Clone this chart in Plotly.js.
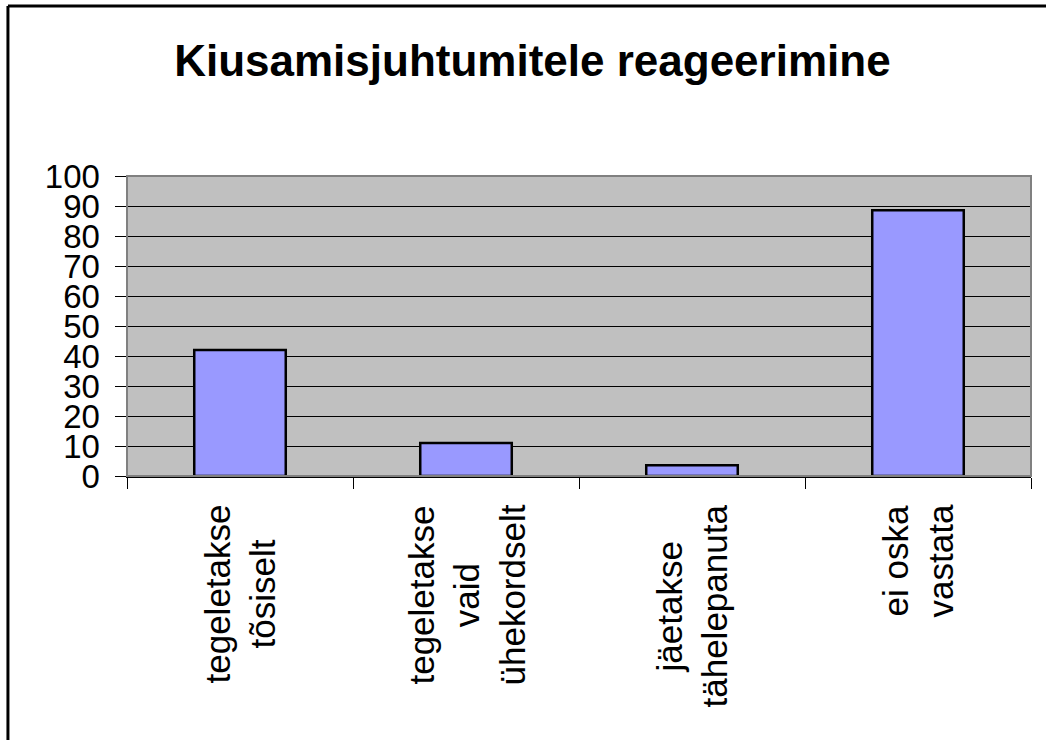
<!DOCTYPE html>
<html>
<head>
<meta charset="utf-8">
<script src="https://cdn.plot.ly/plotly-3.0.1.min.js"></script>
<style>
  html, body { margin: 0; padding: 0; background: #ffffff; overflow: hidden; }
  #chart { width: 1046px; height: 740px; }
</style>
</head>
<body>
<div id="chart"></div>
<script>
// ---- data ----
const categories = ["tegeletakse tõsiselt", "tegeletakse vaid ühekordselt", "jäetakse tähelepanuta", "ei oska vastata"];
const labelLines = [["tegeletakse", "tõsiselt"], ["tegeletakse", "vaid", "ühekordselt"], ["jäetakse", "tähelepanuta"], ["ei oska", "vastata"]];
const values = [42, 11, 3.6, 88.6];
const yTicks = [0, 10, 20, 30, 40, 50, 60, 70, 80, 90, 100];
const chartTitle = "Kiusamisjuhtumitele reageerimine";

const FONT = "Liberation Sans, Arial, sans-serif";

const trace = {
  type: "bar",
  x: categories,
  y: values,
  marker: { color: "#9999FF", line: { color: "#000000", width: 2.5 } },
  hoverinfo: "skip"
};

const annotations = categories.map((c, i) => ({
  xref: "x", yref: "paper",
  x: c, y: -0.09,
  xanchor: "center", yanchor: "top",
  text: labelLines[i].join("<br>"),
  textangle: -90,
  align: "center",
  showarrow: false,
  font: { family: FONT, size: 35, color: "#000000" }
}));

const layout = {
  width: 1046, height: 740,
  paper_bgcolor: "#ffffff",
  plot_bgcolor: "#C0C0C0",
  margin: { l: 127, r: 15, t: 176, b: 264, pad: 0 },
  showlegend: false,
  bargap: 0.595,
  title: {
    text: "<b>" + chartTitle + "</b>",
    font: { family: FONT, size: 44, color: "#000000" },
    x: 0.509, xref: "container", xanchor: "center",
    y: 0.918, yref: "container", yanchor: "middle"
  },
  xaxis: {
    type: "category",
    showticklabels: false,
    ticks: "outside", tickson: "boundaries", ticklen: 11, tickcolor: "#000000", tickwidth: 1,
    showline: true, linecolor: "#000000", linewidth: 1.5,
    showgrid: false, zeroline: false,
    fixedrange: true
  },
  yaxis: {
    range: [0, 100],
    tickvals: yTicks,
    ticktext: yTicks.map(String),
    ticks: "outside", ticklen: 11, tickcolor: "#000000", tickwidth: 1,
    ticklabelstandoff: 8,
    showline: true, linecolor: "#000000", linewidth: 1.5,
    showgrid: true, gridcolor: "#000000", gridwidth: 1,
    zeroline: false,
    tickfont: { family: FONT, size: 33, color: "#000000" },
    fixedrange: true
  },
  annotations: annotations,
  shapes: [
    { type: "rect", xref: "paper", yref: "paper", x0: 0, x1: 1, y0: 0, y1: 1,
      line: { color: "#808080", width: 2 }, fillcolor: "rgba(0,0,0,0)", layer: "above" },
    // outer chart frame: only left and top edges fall inside the picture
    { type: "line", xref: "paper", yref: "paper", x0: -0.1317, x1: -0.1317, y0: -1.0, y1: 1.5666,
      line: { color: "#000000", width: 3 }, layer: "above" },
    { type: "line", xref: "paper", yref: "paper", x0: -0.1317, x1: 1.1, y0: 1.5666, y1: 1.5666,
      line: { color: "#000000", width: 3 }, layer: "above" }
  ]
};

Plotly.newPlot("chart", [trace], layout, { displayModeBar: false, staticPlot: true });
</script>
</body>
</html>
